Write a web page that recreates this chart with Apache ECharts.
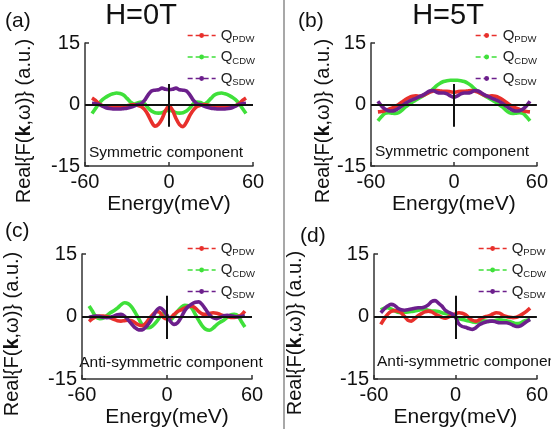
<!DOCTYPE html>
<html>
<head>
<meta charset="utf-8">
<script src="https://cdn.jsdelivr.net/npm/echarts@6/dist/echarts.min.js"></script>
<style>
  html, body { margin: 0; padding: 0; background: #fff; }
  #chart { width: 551px; height: 429px; }
</style>
</head>
<body>
<div id="chart"></div>
<script>
// energy samples (meV), shared by every curve
var energy = [-55, -52.5, -50, -47.5, -45, -42.5, -40, -37.5, -35, -32.5, -30, -27.5, -25, -22.5, -20, -17.5, -15, -12.5, -10, -7.5, -5, -2.5,
  0, 2.5, 5, 7.5, 10, 12.5, 15, 17.5, 20, 22.5, 25, 27.5, 30, 32.5, 35, 37.5, 40, 42.5, 45, 47.5, 50, 52.5, 55];

var xTicks = [-60, 0, 60];
var yTicks = [-15, 0, 15];
var seriesNames = ['PDW', 'CDW', 'SDW'];

// (a) H=0T symmetric
var pdwA = [1.6, 1.0, 0.2, -0.3, -0.5, -0.6, -0.7, -0.6, -0.5, -0.5, -0.3, -0.1, 0.0, -0.2, -0.5, -1.2, -2.5, -4.2, -5.3, -4.8, -3.5, -1.5,
  -0.3, -1.4, -3.4, -4.9, -5.4, -4.3, -2.6, -1.3, -0.5, -0.2, 0.0, -0.1, -0.3, -0.5, -0.5, -0.6, -0.7, -0.6, -0.5, -0.3, 0.2, 1.0, 1.6];
var cdwA = [-2.2, -1.0, 0.3, 1.2, 1.8, 2.3, 2.6, 2.8, 2.7, 2.3, 1.5, 0.6, 0.1, 0.4, 0.6, 0.2, -0.8, -1.6, -2.0, -2.1, -2.0, -1.6,
  -1.4, -1.6, -2.0, -2.1, -2.0, -1.6, -0.8, 0.2, 0.6, 0.5, 0.1, 0.6, 1.5, 2.3, 2.7, 2.8, 2.6, 2.3, 1.8, 1.2, 0.3, -1.0, -2.2];
var sdwA = [0.3, 0.2, 0.0, -0.4, -0.8, -1.0, -1.1, -1.1, -1.1, -1.0, -0.9, -0.7, -0.4, 0.0, 0.2, 1.0, 2.3, 3.3, 3.5, 3.6, 4.0, 3.7,
  3.6, 3.7, 4.0, 3.6, 3.5, 3.3, 2.3, 1.0, 0.2, 0.0, -0.4, -0.7, -0.9, -1.0, -1.1, -1.1, -1.1, -1.0, -0.8, -0.4, 0.0, 0.2, 0.3];

// (b) H=5T symmetric
var pdwB = [-1.8, -1.7, -1.5, -1.2, -0.9, -0.5, 0.0, 0.6, 1.2, 1.7, 2.0, 2.1, 2.0, 2.2, 2.6, 3.0, 3.3, 3.4, 3.3, 3.2, 3.2, 3.1,
  3.0, 3.1, 3.2, 3.2, 3.3, 3.4, 3.3, 3.0, 2.6, 2.2, 2.0, 2.1, 2.0, 1.7, 1.2, 0.6, 0.0, -0.5, -0.9, -1.2, -1.5, -1.7, -1.8];
var cdwB = [-4.0, -3.0, -2.2, -2.0, -2.1, -2.2, -2.0, -1.4, -0.6, 0.0, 0.6, 1.1, 1.6, 2.1, 2.6, 3.1, 3.8, 4.6, 5.2, 5.6, 5.8, 5.9,
  5.9, 5.9, 5.8, 5.6, 5.2, 4.6, 3.8, 3.1, 2.6, 2.1, 1.6, 1.1, 0.6, 0.0, -0.6, -1.4, -2.0, -2.2, -2.1, -2.0, -2.2, -3.0, -4.0];
var sdwB = [0.8, -0.3, -1.1, -1.5, -1.6, -1.4, -0.9, -0.3, 0.3, 0.8, 1.2, 1.5, 1.9, 2.3, 2.8, 3.3, 3.4, 3.0, 2.8, 2.8, 2.6, 2.1,
  1.8, 2.1, 2.6, 2.8, 2.8, 3.0, 3.4, 3.3, 2.8, 2.3, 1.9, 1.5, 1.2, 0.8, 0.3, -0.3, -0.9, -1.4, -1.6, -1.5, -1.1, -0.3, 0.8];

// (c) H=0T anti-symmetric
var pdwC = [-1.2, -0.5, 0.0, 0.1, 0.1, 0.0, -0.3, -0.7, -1.0, -1.1, -1.0, -0.9, -1.0, -1.5, -2.0, -2.2, -1.6, -0.5, 0.5, 1.2, 1.0, -0.2,
  -0.6, -0.3, 0.5, 1.2, 1.6, 2.0, 2.4, 2.5, 2.0, 1.2, 0.6, 0.5, 0.7, 0.9, 0.8, 0.5, 0.2, 0.0, -0.2, -0.2, 0.0, 0.4, 1.3];
var cdwC = [2.5, 1.2, -0.2, -0.5, -0.4, 0.2, 0.9, 1.4, 2.0, 2.8, 3.3, 3.1, 2.3, 1.0, -0.5, -2.0, -2.6, -2.7, -2.2, -1.3, -0.1, 0.8,
  0.0, -0.8, 0.1, 1.3, 2.2, 2.7, 2.6, 2.0, 0.5, -1.0, -2.3, -3.1, -3.3, -2.8, -2.0, -1.4, -0.9, -0.2, 0.4, 0.5, 0.2, -1.2, -2.5];
var sdwC = [-0.2, 0.0, 0.1, 0.0, -0.2, -0.3, -0.2, 0.1, 0.4, 0.5, 0.1, -0.8, -1.8, -2.7, -3.2, -3.2, -2.6, -1.5, -0.1, 1.4, 2.1, 1.5,
  0.3, -1.2, -1.9, -1.5, -0.2, 1.4, 2.4, 3.0, 3.4, 3.5, 2.8, 1.6, 0.4, -0.3, -0.5, -0.2, 0.2, 0.3, 0.2, 0.0, -0.1, 0.0, 0.2];

// (d) H=5T anti-symmetric
var pdwD = [-1.9, -0.6, 0.5, 1.2, 1.4, 1.3, 0.9, 0.0, -0.9, -1.1, -0.5, 0.2, 0.7, 1.1, 1.3, 1.1, 0.6, 0.2, -0.2, -0.4, -0.1, 0.4,
  0.6, 0.9, 0.8, 0.4, -0.3, -0.9, -1.1, -0.8, -0.3, 0.0, 0.2, 0.6, 0.9, 0.8, 0.3, 0.0, -0.2, -0.3, -0.2, 0.2, 0.7, 1.3, 2.0];
var cdwD = [1.6, 2.0, 2.1, 1.8, 1.4, 1.0, 0.9, 1.0, 1.1, 1.2, 1.3, 1.5, 1.7, 1.7, 1.5, 1.3, 1.3, 1.2, 0.9, 0.7, 0.6, 0.5,
  0.0, -0.5, -0.7, -0.9, -1.1, -1.3, -1.4, -1.2, -1.0, -1.1, -1.2, -1.1, -0.9, -0.8, -0.9, -1.0, -1.2, -1.5, -1.7, -1.6, -1.2, -0.9, -0.7];
var sdwD = [0.9, 1.8, 2.5, 2.9, 2.7, 2.0, 1.6, 1.5, 1.6, 1.8, 2.0, 2.1, 2.1, 2.3, 2.8, 3.6, 3.8, 3.2, 2.5, 1.5, 1.0, 0.6,
  -0.2, -1.8, -2.4, -2.6, -2.9, -3.1, -2.7, -2.0, -1.6, -1.3, -1.1, -1.1, -1.3, -1.5, -1.5, -1.5, -1.7, -2.1, -2.4, -2.3, -1.8, -1.2, -0.7];

var panels = [
  { grid: { left: 85, top: 43, width: 168, height: 123 }, pdw: pdwA, cdw: cdwA, sdw: sdwA, legend: { left: 182, top: 23, w: 28 } },
  { grid: { left: 371, top: 43, width: 170, height: 123 }, pdw: pdwB, cdw: cdwB, sdw: sdwB, legend: { left: 470, top: 23, w: 22 } },
  { grid: { left: 82, top: 254, width: 170, height: 126 }, pdw: pdwC, cdw: cdwC, sdw: sdwC, legend: { left: 182, top: 236, w: 28 } },
  { grid: { left: 374, top: 254, width: 169, height: 126 }, pdw: pdwD, cdw: cdwD, sdw: sdwD, legend: { left: 473, top: 236, w: 28 } }
];

var colors = { PDW: '#e8302c', CDW: '#3fe03a', SDW: '#6c1f8c' };
var font = 'Liberation Sans';

function pairs(ys) {
  return energy.map(function (x, i) { return [x, ys[i]]; });
}

var grids = [], xAxes = [], yAxes = [], series = [], legends = [];
panels.forEach(function (p, i) {
  grids.push(p.grid);
  xAxes.push({
    type: 'value', gridIndex: i, min: xTicks[0], max: xTicks[2], interval: 60,
    name: 'Energy(meV)', nameLocation: 'middle', nameGap: 28,
    nameTextStyle: { fontFamily: font, fontSize: 21, color: '#111' },
    axisLine: { onZero: false, lineStyle: { color: '#333', width: 1.5 } },
    axisTick: { inside: true, length: 4, lineStyle: { color: '#333', width: 1.5 } },
    axisLabel: { fontFamily: font, fontSize: 20, color: '#111', margin: 6 },
    splitLine: { show: false }
  });
  yAxes.push({
    type: 'value', gridIndex: i, min: yTicks[0], max: yTicks[2], interval: 15,
    axisLine: { show: true, onZero: false, lineStyle: { color: '#333', width: 1.5 } },
    axisTick: { inside: true, length: 4, lineStyle: { color: '#333', width: 1.5 } },
    axisLabel: { fontFamily: font, fontSize: 20, color: '#111', margin: 5 },
    splitLine: { show: false }
  });
  ['CDW', 'PDW', 'SDW'].forEach(function (n) {
    var s = {
      name: n, type: 'line', xAxisIndex: i, yAxisIndex: i,
      data: pairs(p[n.toLowerCase()]),
      smooth: 0.3, showSymbol: false, symbol: 'circle', symbolSize: 4,
      lineStyle: { color: colors[n], width: 3.6 },
      itemStyle: { color: colors[n] }
    };
    if (n === 'SDW') {
      s.markLine = {
        silent: true, symbol: 'none', animation: false,
        label: { show: false },
        lineStyle: { color: '#111', width: 2, type: 'solid' },
        data: [
          { yAxis: 0 },
          [{ coord: [0, -5.4] }, { coord: [0, 5] }]
        ]
      };
    }
    series.push(s);
  });
  legends.push({
    left: p.legend.left, top: p.legend.top, orient: 'vertical',
    data: seriesNames, itemWidth: p.legend.w, itemHeight: 6, itemGap: 5,
    lineStyle: { width: 1.3, type: [5, 3] },
    itemStyle: { borderWidth: 0 },
    formatter: function (name) { return '{q|Q}{s|' + name + '}'; },
    textStyle: {
      fontFamily: font, color: '#222',
      rich: {
        q: { fontSize: 15, fontFamily: font, color: '#222', lineHeight: 18 },
        s: { fontSize: 9.5, fontFamily: font, color: '#222', padding: [8, 0, 0, 0] }
      }
    }
  });
});

function txt(x, y, text, size, align) {
  return {
    type: 'text', x: x, y: y,
    style: {
      text: text, fontFamily: font, fontSize: size, fill: '#111',
      textAlign: align || 'left', textVerticalAlign: 'middle'
    }
  };
}

function yName(x, y) {
  return {
    type: 'text', x: x, y: y, rotation: Math.PI / 2,
    style: {
      text: 'Real{F({b|k},ω)} (a.u.)', fontFamily: font, fontSize: 20, fill: '#111',
      textAlign: 'center', textVerticalAlign: 'middle',
      rich: { b: { fontFamily: font, fontSize: 20, fontWeight: 'bold', fill: '#111' } }
    }
  };
}

var graphics = [
  { type: 'line', shape: { x1: 284, y1: 0, x2: 284, y2: 429 }, style: { stroke: '#a8a8a8', lineWidth: 2 } },
  txt(5, 21, '(a)', 21),
  txt(141, 16, 'H=0T', 29, 'center'),
  txt(298, 21, '(b)', 21),
  txt(448, 16, 'H=5T', 29, 'center'),
  txt(5, 231, '(c)', 21),
  txt(300, 236, '(d)', 21),
  txt(166, 153, 'Symmetric component', 15.5, 'center'),
  txt(452, 152, 'Symmetric component', 15.5, 'center'),
  txt(171, 363, 'Anti-symmetric component', 15.5, 'center'),
  txt(377, 362, 'Anti-symmetric component', 15.5, 'left'),
  yName(24, 121),
  yName(323, 121),
  yName(12, 334),
  yName(295, 333)
];

var chart = echarts.init(document.getElementById('chart'), null, { renderer: 'canvas' });
chart.setOption({
  animation: false,
  backgroundColor: '#fff',
  grid: grids,
  xAxis: xAxes,
  yAxis: yAxes,
  legend: legends,
  series: series,
  graphic: graphics
});
</script>
</body>
</html>
